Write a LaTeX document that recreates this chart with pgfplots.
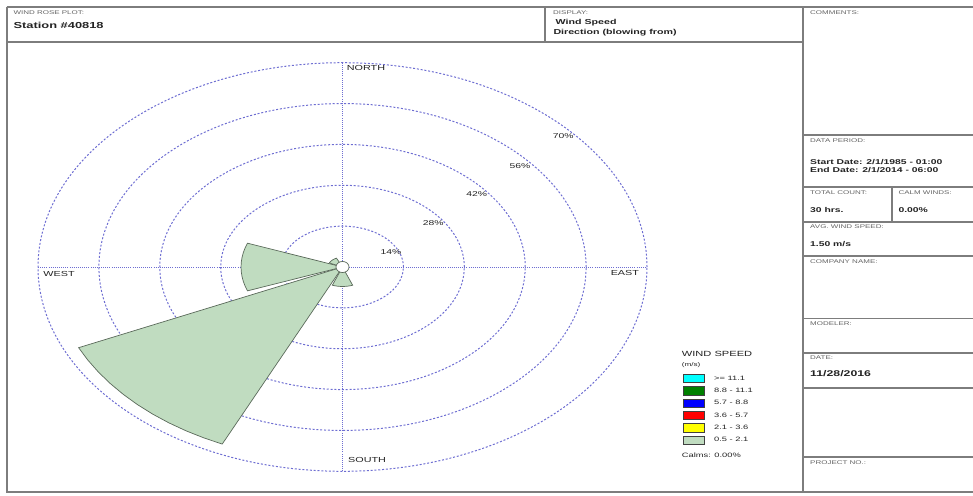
\documentclass[border=0pt]{standalone}
\usepackage{fontspec}
\setmainfont{Liberation Sans}
\usepackage{graphicx}
\usepackage{pgfplots}
\pgfplotsset{compat=1.18}

\definecolor{petal}{RGB}{192,220,192}
\definecolor{petaledge}{RGB}{90,105,90}
\definecolor{ringc}{RGB}{110,110,210}
\definecolor{framec}{RGB}{125,125,125}
\definecolor{ink}{RGB}{35,35,35}
\definecolor{faint}{RGB}{100,100,100}
\definecolor{wscyan}{RGB}{0,255,255}
\definecolor{wsgreen}{RGB}{0,128,0}
\definecolor{wsblue}{RGB}{0,0,255}
\definecolor{wsred}{RGB}{255,0,0}
\definecolor{wsyellow}{RGB}{255,255,0}

\tikzset{
  ring/.style={ringc, line width=1pt, dash pattern=on 2pt off 1.8pt},
  axisline/.style={ringc, line width=1pt, dash pattern=on 1pt off 1.1pt},
}

% report text is stretched horizontally
\newcommand\sx[1]{\scalebox{1.48}[1]{#1}}
\newcommand\fs[1]{\fontsize{#1}{#1}\selectfont}

\begin{document}
\begin{tikzpicture}
\useasboundingbox (0,0) rectangle (973pt,-495pt);
\clip (0,0) rectangle (973pt,-495pt);

% ---------- report frame and text (pixel coordinates, y downward) ----------
\begin{scope}[x=1pt,y=-1pt]
  \draw[framec, line width=1.9pt] (6.7,7.3) -- (980,7.3);
  \draw[framec, line width=1.9pt] (6.7,7.3) -- (6.7,491.7) -- (980,491.7);
  \draw[framec, line width=1.8pt] (6.7,41.7) -- (802.7,41.7);
  \draw[framec, line width=1.6pt] (545,7.3) -- (545,41.7);
  \draw[framec, line width=1.9pt] (802.7,7.3) -- (802.7,491.7);
  \foreach \yy in {135,186.7,221.7,256,318.3,352.7,387.7,456.7}
    \draw[framec, line width=1.6pt] (802.7,\yy) -- (980,\yy);
  \draw[framec, line width=1.6pt] (891.7,186.7) -- (891.7,221.7);

  \tikzset{lab/.style={anchor=base west, inner sep=0pt, text=faint},
           val/.style={anchor=base west, inner sep=0pt, text=ink}}
  \node[lab] at (13.3,15) {\fs{5.4}\sx{WIND ROSE PLOT:}};
  \node[val] at (13.3,28.3) {\fs{8.7}\bfseries\sx{Station \#40818}};
  \node[lab] at (553,14.5) {\fs{5.4}\sx{DISPLAY:}};
  \node[val] at (555.5,25) {\fs{7.2}\bfseries\sx{Wind Speed}};
  \node[val] at (553.3,34.3) {\fs{7.2}\bfseries\sx{Direction (blowing from)}};

  \node[lab] at (810,14.7) {\fs{5.4}\sx{COMMENTS:}};
  \node[lab] at (810,142.7) {\fs{5.4}\sx{DATA PERIOD:}};
  \node[val] at (810,164.2) {\fs{7}\bfseries\sx{Start Date: 2/1/1985 - 01:00}};
  \node[val] at (810,172.5) {\fs{7}\bfseries\sx{End Date: 2/1/2014 - 06:00}};
  \node[lab] at (810,194.7) {\fs{5.4}\sx{TOTAL COUNT:}};
  \node[lab] at (898.3,194.7) {\fs{5.4}\sx{CALM WINDS:}};
  \node[val] at (810,212.5) {\fs{7}\bfseries\sx{30 hrs.}};
  \node[val] at (898.3,212.5) {\fs{7}\bfseries\sx{0.00\%}};
  \node[lab] at (810,228.7) {\fs{5.4}\sx{AVG. WIND SPEED:}};
  \node[val] at (810,246.5) {\fs{7}\bfseries\sx{1.50 m/s}};
  \node[lab] at (810,263.7) {\fs{5.4}\sx{COMPANY NAME:}};
  \node[lab] at (810,325.3) {\fs{5.4}\sx{MODELER:}};
  \node[lab] at (810,359.7) {\fs{5.4}\sx{DATE:}};
  \node[val] at (810,376.3) {\fs{8.3}\bfseries\sx{11/28/2016}};
  \node[lab] at (810,464.7) {\fs{5.4}\sx{PROJECT NO.:}};

  % legend heading and calms note
  \node[val] at (681.7,356.7) {\fs{7.5}\sx{WIND SPEED}};
  \node[val] at (681.7,366.3) {\fs{5.5}\sx{(m/s)}};
  \node[val] at (681.7,457.3) {\fs{6.3}\sx{Calms: 0.00\%}};
\end{scope}

% ---------- wind rose ----------
\begin{axis}[
  at={(342.5pt,-267pt)}, anchor=center,
  scale only axis, width=609pt, height=408.6pt,
  xmin=-70, xmax=70, ymin=-70, ymax=70,
  hide axis, clip=false,
  legend cell align=left,
  legend style={at={(axis description cs:1.0586,0.2378)}, anchor=north west,
    draw=none, fill=none, inner sep=0pt, outer sep=0pt,
    row sep=3.2pt, column sep=9.3pt, font={\fs{6.3}}, text=ink,
    nodes={inner sep=0pt}},
  legend image code/.code={\draw[#1] (0pt,-4.15pt) rectangle (21.3pt,4.15pt);},
]
  % frequency rings (14% steps)
  \draw[ring] (axis cs:0,0) ellipse [x radius=14, y radius=14];
  \draw[ring] (axis cs:0,0) ellipse [x radius=28, y radius=28];
  \draw[ring] (axis cs:0,0) ellipse [x radius=42, y radius=42];
  \draw[ring] (axis cs:0,0) ellipse [x radius=56, y radius=56];
  \draw[ring] (axis cs:0,0) ellipse [x radius=70, y radius=70];
  \draw[axisline] (axis cs:-70,0) -- (axis cs:70,0);
  \draw[axisline] (axis cs:0,-70) -- (axis cs:0,70);

  % petals: (math angle, frequency %), blowing-from directions
  % SW: 20 of 30 hrs
  \addplot[fill=petal, draw=petaledge, line width=0.7pt, data cs=polar, forget plot]
    coordinates {(225,0) (204.5,66.67) (208.6,66.67) (212.7,66.67) (216.8,66.67)
      (220.9,66.67) (225,66.67) (229.1,66.67) (233.2,66.67) (237.3,66.67)
      (241.4,66.67) (245.5,66.67) (225,0)} -- cycle;
  % W: 7 of 30 hrs
  \addplot[fill=petal, draw=petaledge, line width=0.7pt, data cs=polar, forget plot]
    coordinates {(180,0) (159.5,23.33) (163.6,23.33) (167.7,23.33) (171.8,23.33)
      (175.9,23.33) (180,23.33) (184.1,23.33) (188.2,23.33) (192.3,23.33)
      (196.4,23.33) (200.5,23.33) (180,0)} -- cycle;
  % S: 2 of 30 hrs
  \addplot[fill=petal, draw=petaledge, line width=0.7pt, data cs=polar, forget plot]
    coordinates {(270,0) (249.5,6.67) (253.6,6.67) (257.7,6.67) (261.8,6.67)
      (265.9,6.67) (270,6.67) (274.1,6.67) (278.2,6.67) (282.3,6.67)
      (286.4,6.67) (290.5,6.67) (270,0)} -- cycle;
  % NW: 1 of 30 hrs
  \addplot[fill=petal, draw=petaledge, line width=0.7pt, data cs=polar, forget plot]
    coordinates {(135,0) (114.5,3.33) (118.6,3.33) (122.7,3.33) (126.8,3.33)
      (130.9,3.33) (135,3.33) (139.1,3.33) (143.2,3.33) (147.3,3.33)
      (151.4,3.33) (155.5,3.33) (135,0)} -- cycle;

  % calm circle
  \draw[petaledge, fill=white, line width=0.7pt] (axis cs:0,0) ellipse [x radius=1.5, y radius=1.9];

  % ring labels
  \node[inner sep=0pt, text=ink] at (axis cs:11.15,5.24) {\fs{7}\sx{14\%}};
  \node[inner sep=0pt, text=ink] at (axis cs:20.87,15.18) {\fs{7}\sx{28\%}};
  \node[inner sep=0pt, text=ink] at (axis cs:30.85,25.0) {\fs{7}\sx{42\%}};
  \node[inner sep=0pt, text=ink] at (axis cs:40.8,34.7) {\fs{7}\sx{56\%}};
  \node[inner sep=0pt, text=ink] at (axis cs:50.76,45.0) {\fs{7}\sx{70\%}};

  % compass labels
  \node[anchor=west, inner sep=0pt, text=ink] at (axis cs:0.97,68.07) {\fs{7.3}\sx{NORTH}};
  \node[anchor=west, inner sep=0pt, text=ink] at (axis cs:1.26,-66.1) {\fs{7.3}\sx{SOUTH}};
  \node[anchor=west, inner sep=0pt, text=ink] at (axis cs:-68.8,-2.4) {\fs{7.3}\sx{WEST}};
  \node[anchor=east, inner sep=0pt, text=ink] at (axis cs:68.2,-2.16) {\fs{7.3}\sx{EAST}};

  % wind speed classes
  \addlegendimage{fill=wscyan, draw=black!75, line width=0.8pt}
  \addlegendentry{\sx{>= 11.1}}
  \addlegendimage{fill=wsgreen, draw=black!75, line width=0.8pt}
  \addlegendentry{\sx{8.8 - 11.1}}
  \addlegendimage{fill=wsblue, draw=black!75, line width=0.8pt}
  \addlegendentry{\sx{5.7 - 8.8}}
  \addlegendimage{fill=wsred, draw=black!75, line width=0.8pt}
  \addlegendentry{\sx{3.6 - 5.7}}
  \addlegendimage{fill=wsyellow, draw=black!75, line width=0.8pt}
  \addlegendentry{\sx{2.1 - 3.6}}
  \addlegendimage{fill=petal, draw=black!75, line width=0.8pt}
  \addlegendentry{\sx{0.5 - 2.1}}
\end{axis}
\end{tikzpicture}
\end{document}
